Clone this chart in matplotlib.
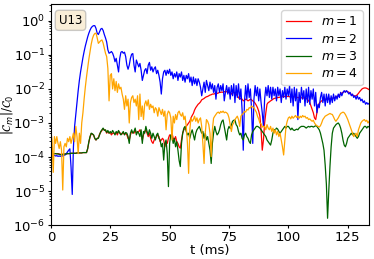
import numpy as np
import matplotlib
matplotlib.use("Agg")
import matplotlib.pyplot as plt
from matplotlib.ticker import LogLocator, NullFormatter

# sample times (ms), 0.5 ms spacing
t_ms = np.arange(0, 134.01, 0.5)

# log10(|C_m|/C_0)
log_m1 = [
    -3.90,-3.90,-3.90,-3.90,-3.90,-3.90,-3.90,-3.91,-3.92,-3.92,-3.92,-3.92,-3.91,-3.91,-3.90,-3.90,-3.90,-3.89,-3.89,-3.89,
    -3.89,-3.89,-3.88,-3.88,-3.88,-3.88,-3.88,-3.87,-3.87,-3.87,-3.87,-3.76,-3.56,-3.41,-3.31,-3.33,-3.36,-3.46,-3.50,-3.46,
    -3.43,-3.33,-3.27,-3.22,-3.17,-3.20,-3.22,-3.30,-3.25,-3.30,-3.28,-3.35,-3.30,-3.30,-3.32,-3.28,-3.35,-3.25,-3.28,-3.33,
    -3.32,-3.30,-3.33,-3.30,-3.35,-3.45,-3.50,-3.35,-3.25,-3.28,-3.30,-3.20,-3.30,-3.28,-3.25,-3.20,-3.30,-3.50,-3.35,-3.25,
    -3.20,-3.30,-3.40,-3.30,-3.45,-3.55,-3.60,-3.50,-3.45,-3.40,-3.35,-3.40,-3.55,-3.50,-3.45,-3.50,-3.70,-3.55,-3.60,-3.45,
    -3.35,-3.40,-3.30,-3.45,-3.50,-3.40,-3.55,-3.60,-3.70,-3.74,-3.50,-3.30,-3.20,-3.16,-3.10,-3.05,-3.00,-2.95,-2.85,-2.78,
    -2.72,-2.62,-2.55,-2.50,-2.45,-2.42,-2.38,-2.32,-2.30,-2.28,-2.25,-2.23,-2.22,-2.20,-2.18,-2.17,-2.15,-2.15,-2.14,-2.13,
    -2.13,-2.12,-2.10,-2.10,-2.09,-2.10,-2.08,-2.08,-2.08,-2.10,-2.10,-2.12,-2.15,-2.12,-2.10,-2.12,-2.15,-2.20,-2.25,-2.30,
    -2.28,-2.30,-2.35,-2.33,-2.30,-2.32,-2.35,-2.33,-2.30,-2.32,-2.35,-2.38,-2.42,-2.48,-2.55,-2.65,-2.80,-3.20,-3.80,-3.50,
    -3.00,-2.70,-2.45,-2.40,-2.38,-2.35,-2.33,-2.30,-2.28,-2.27,-2.27,-2.25,-2.25,-2.24,-2.22,-2.23,-2.22,-2.22,-2.23,-2.22,
    -2.22,-2.23,-2.22,-2.23,-2.24,-2.23,-2.24,-2.25,-2.25,-2.26,-2.25,-2.26,-2.27,-2.26,-2.27,-2.28,-2.30,-2.35,-2.40,-2.50,
    -2.60,-2.70,-2.85,-2.90,-2.70,-2.50,-2.42,-2.38,-2.35,-2.33,-2.32,-2.30,-2.30,-2.30,-2.30,-2.28,-2.28,-2.27,-2.26,-2.25,
    -2.24,-2.22,-2.20,-2.18,-2.15,-2.12,-2.10,-2.08,-2.07,-2.07,-2.08,-2.10,-2.13,-2.16,-2.18,-2.20,-2.21,-2.20,-2.17,-2.13,
    -2.08,-2.04,-2.00,-1.98,-1.97,-1.97,-1.98,-2.00,-2.02,
]

log_m2 = [
    -3.95,-3.94,-3.96,-3.95,-3.97,-3.96,-3.98,-3.97,-3.98,-3.96,-3.97,-3.95,-3.94,-3.90,-3.85,-3.80,-3.76,-4.30,-5.10,-3.70,
    -3.10,-2.75,-2.40,-2.05,-1.75,-1.50,-1.28,-1.08,-0.90,-0.74,-0.60,-0.47,-0.36,-0.27,-0.20,-0.16,-0.14,-0.14,-0.22,-0.36,
    -0.40,-0.32,-0.24,-0.22,-0.28,-0.40,-0.50,-0.62,-0.85,-0.95,-0.93,-0.90,-0.95,-1.05,-1.20,-1.10,-1.30,-1.50,-1.10,-0.92,
    -0.90,-0.95,-0.92,-1.05,-1.30,-1.42,-1.30,-1.10,-0.98,-0.96,-1.30,-1.50,-1.15,-1.25,-1.35,-1.25,-1.45,-1.75,-1.60,-1.45,
    -1.40,-1.55,-1.30,-1.22,-1.45,-1.35,-1.50,-1.40,-1.35,-1.55,-1.45,-1.60,-1.80,-2.15,-1.70,-1.50,-1.45,-1.60,-1.45,-1.55,
    -1.42,-1.60,-1.50,-1.70,-1.55,-1.65,-1.50,-1.75,-1.55,-1.65,-1.50,-1.75,-1.60,-1.80,-1.60,-1.70,-1.55,-1.80,-1.65,-1.90,
    -1.65,-1.85,-1.70,-1.90,-1.70,-1.80,-1.95,-2.20,-2.00,-1.80,-2.10,-1.75,-1.90,-2.05,-1.80,-2.00,-1.85,-2.10,-1.90,-2.30,
    -1.95,-1.85,-2.10,-1.90,-2.05,-1.85,-2.35,-2.10,-1.90,-2.15,-1.95,-2.30,-1.90,-2.20,-1.85,-2.40,-1.90,-2.25,-1.85,-2.30,
    -2.00,-2.60,-3.80,-2.40,-1.90,-2.30,-1.85,-2.25,-2.00,-2.60,-3.60,-2.30,-1.90,-2.20,-1.95,-2.35,-2.00,-2.40,-2.70,-3.10,
    -2.30,-1.95,-2.20,-1.90,-2.25,-1.95,-2.30,-1.95,-2.20,-2.00,-2.35,-1.95,-2.20,-2.00,-2.40,-2.05,-2.25,-1.95,-2.30,-2.00,
    -2.20,-1.90,-2.40,-2.00,-2.50,-1.95,-2.35,-2.00,-2.90,-2.10,-2.40,-1.95,-2.30,-2.05,-2.50,-2.00,-2.40,-1.95,-2.45,-2.05,
    -2.30,-2.00,-2.50,-2.10,-2.70,-2.45,-2.55,-2.25,-2.10,-2.40,-2.15,-2.50,-2.15,-2.40,-2.15,-2.45,-2.20,-2.40,-2.15,-2.35,
    -2.20,-2.30,-2.15,-2.25,-2.10,-2.20,-2.10,-2.05,-2.10,-2.05,-2.10,-2.15,-2.10,-2.20,-2.15,-2.25,-2.20,-2.30,-2.20,-2.30,
    -2.25,-2.35,-2.30,-2.40,-2.35,-2.45,-2.40,-2.45,-2.42,
]

log_m3 = [
    -3.89,-3.89,-3.90,-3.90,-3.90,-3.91,-3.91,-3.92,-3.93,-3.93,-3.92,-3.92,-3.91,-3.91,-3.90,-3.90,-3.90,-3.89,-3.89,-3.89,
    -3.89,-3.89,-3.88,-3.88,-3.88,-3.88,-3.88,-3.87,-3.87,-3.87,-3.87,-3.75,-3.55,-3.40,-3.30,-3.32,-3.35,-3.45,-3.50,-3.45,
    -3.45,-3.35,-3.25,-3.20,-3.15,-3.22,-3.20,-3.28,-3.22,-3.30,-3.25,-3.30,-3.22,-3.28,-3.35,-3.25,-3.30,-3.22,-3.30,-3.35,
    -3.30,-3.25,-3.35,-3.28,-3.30,-3.40,-3.60,-3.30,-3.20,-3.30,-3.25,-3.15,-3.35,-3.25,-3.30,-3.40,-3.20,-3.60,-3.25,-3.30,
    -3.10,-3.25,-3.35,-3.20,-3.30,-3.45,-3.30,-3.40,-3.50,-3.35,-3.30,-3.45,-3.50,-3.70,-3.60,-4.09,-3.60,-3.50,-3.90,-4.87,
    -3.60,-3.35,-3.40,-3.60,-3.45,-3.70,-3.55,-3.80,-4.10,-4.28,-3.60,-3.30,-3.15,-3.10,-3.25,-3.35,-3.30,-3.45,-3.30,-3.20,
    -3.35,-3.50,-3.30,-3.20,-3.15,-3.10,-3.20,-3.30,-3.25,-3.45,-3.30,-3.50,-3.40,-3.60,-3.80,-4.19,-3.60,-3.30,-3.10,-3.25,
    -3.35,-3.30,-3.20,-3.05,-2.95,-2.91,-3.10,-3.30,-3.50,-3.20,-3.10,-3.16,-3.05,-2.95,-2.92,-2.91,-3.05,-3.10,-3.25,-3.35,
    -3.30,-3.45,-3.50,-3.35,-3.30,-3.40,-3.45,-3.55,-3.60,-3.35,-3.25,-3.20,-3.15,-3.10,-3.10,-3.12,-3.15,-3.20,-3.25,-3.30,
    -3.35,-3.40,-3.50,-3.55,-3.60,-3.65,-3.50,-3.30,-3.20,-3.20,-3.15,-3.18,-3.25,-3.30,-3.25,-3.20,-3.15,-3.10,-3.15,-3.10,
    -3.10,-3.15,-3.20,-3.15,-3.20,-3.22,-3.20,-3.18,-3.20,-3.15,-3.12,-3.10,-3.10,-3.10,-3.12,-3.15,-3.12,-3.10,-3.12,-3.10,
    -3.10,-3.12,-3.10,-3.08,-3.10,-3.15,-3.20,-3.30,-3.45,-3.60,-3.80,-4.24,-4.80,-5.80,-5.00,-4.28,-3.70,-3.30,-3.15,-3.10,
    -3.05,-3.02,-3.00,-3.05,-3.15,-3.30,-3.50,-3.65,-3.70,-3.60,-3.45,-3.40,-3.35,-3.30,-3.35,-3.30,-3.35,-3.40,-3.45,-3.40,
    -3.30,-3.25,-3.20,-3.15,-3.10,-3.10,-3.15,-3.10,-3.12,
]

log_m4 = [
    -3.25,-3.50,-4.45,-3.40,-3.60,-3.40,-3.60,-3.75,-3.55,-3.80,-4.97,-3.70,-3.60,-3.70,-3.45,-3.55,-3.40,-3.60,-3.45,-3.30,
    -3.55,-3.10,-3.40,-3.90,-3.30,-3.60,-3.00,-2.70,-2.30,-1.95,-1.65,-1.38,-1.12,-0.90,-0.68,-0.52,-0.42,-0.37,-0.36,-0.50,
    -0.66,-0.62,-0.58,-0.56,-0.65,-0.80,-0.95,-1.05,-1.40,-2.35,-1.60,-1.55,-2.00,-1.70,-2.05,-1.78,-2.10,-1.85,-2.00,-1.95,
    -2.15,-2.30,-2.60,-2.20,-2.50,-2.30,-3.00,-2.40,-2.25,-2.20,-2.40,-2.30,-2.50,-2.20,-2.90,-2.15,-2.81,-2.50,-2.90,-2.45,
    -2.35,-2.50,-2.32,-2.60,-2.45,-2.55,-2.50,-2.70,-2.55,-2.60,-2.80,-2.55,-2.65,-2.75,-2.60,-2.80,-2.65,-3.20,-2.75,-2.65,
    -2.70,-2.85,-3.50,-2.80,-3.00,-2.75,-2.90,-2.70,-2.65,-2.75,-2.80,-2.70,-2.90,-2.80,-3.10,-3.60,-4.48,-3.20,-2.85,-2.95,
    -2.90,-2.80,-2.95,-2.85,-3.00,-2.90,-2.85,-3.10,-3.60,-4.19,-3.30,-2.90,-2.95,-3.05,-3.30,-3.99,-3.20,-2.86,-2.80,-2.75,
    -2.70,-2.68,-2.72,-2.66,-2.69,-2.65,-2.70,-2.68,-2.70,-2.74,-2.85,-3.05,-3.25,-3.05,-3.00,-2.90,-2.85,-2.80,-2.90,-3.10,
    -2.80,-2.75,-2.72,-2.66,-2.68,-2.60,-2.62,-2.55,-2.56,-2.50,-2.53,-2.55,-2.62,-2.68,-2.80,-2.88,-3.00,-3.02,-3.12,-3.10,
    -3.10,-3.20,-3.05,-3.15,-3.20,-3.10,-3.25,-3.15,-3.30,-3.20,-3.35,-3.25,-3.40,-3.30,-3.50,-3.70,-3.94,-3.50,-3.10,-2.95,
    -2.85,-2.82,-2.88,-2.80,-2.86,-2.82,-2.78,-2.84,-2.80,-2.86,-2.80,-2.84,-2.78,-2.82,-2.80,-2.86,-2.84,-2.90,-2.88,-2.92,
    -2.95,-2.92,-3.00,-3.05,-3.08,-3.10,-3.12,-3.08,-3.00,-2.90,-2.85,-2.80,-2.78,-2.76,-2.74,-2.72,-2.74,-2.75,-2.82,-2.90,
    -2.95,-2.90,-2.85,-2.78,-2.72,-2.70,-2.68,-2.70,-2.75,-2.82,-2.90,-3.00,-3.10,-3.20,-3.30,-3.40,-3.35,-3.30,-3.40,-3.20,
    -3.10,-3.00,-2.95,-2.92,-2.90,-2.95,-2.92,-3.00,-2.95,
]

labels = [r"$m = 1$", r"$m = 2$", r"$m = 3$", r"$m = 4$"]
colors = ["red", "blue", "darkgreen", "orange"]
panel_label = "U13"
x_ticks = [0, 25, 50, 75, 100, 125]
y_ticks = [1e-6, 1e-5, 1e-4, 1e-3, 1e-2, 1e-1, 1e0]

plt.rcParams["font.size"] = 9.5

fig = plt.figure(figsize=(3.74, 2.59), dpi=100)
ax = fig.add_axes([0.136, 0.131, 0.851, 0.854])

for series, lab, col in zip([log_m1, log_m2, log_m3, log_m4], labels, colors):
    vals = 10.0 ** np.asarray(series)
    n = min(len(vals), len(t_ms))
    ax.plot(t_ms[:n], vals[:n], color=col, lw=0.9, label=lab)

ax.set_yscale("log")
ax.set_ylim(1e-6, 10 ** 0.5)
ax.set_xlim(0, 134)
ax.set_xticks(x_ticks)
ax.set_yticks(y_ticks)
ax.yaxis.set_minor_locator(LogLocator(base=10, subs=np.arange(2, 10) * 1.0, numticks=20))
ax.yaxis.set_minor_formatter(NullFormatter())
ax.tick_params(axis="both", which="major", length=2.5, pad=1.5, labelsize=9.5)
ax.tick_params(axis="both", which="minor", length=1.5)
ax.set_xlabel("t (ms)", labelpad=0, fontsize=9.5)
ax.set_ylabel(r"$|\mathcal{C}_m|/\mathcal{C}_0$", fontsize=8.5)
ax.yaxis.set_label_coords(-0.112, 0.5)
ax.legend(loc="upper right", fontsize=9, handlelength=2.0, borderpad=0.4,
          labelspacing=0.35, handletextpad=0.8)
ax.text(0.025, 0.955, panel_label, transform=ax.transAxes, va="top", ha="left", fontsize=8.5,
        bbox=dict(boxstyle="round", facecolor="wheat", alpha=0.5, edgecolor="0.6"))

fig.savefig("out.png", dpi=100)
